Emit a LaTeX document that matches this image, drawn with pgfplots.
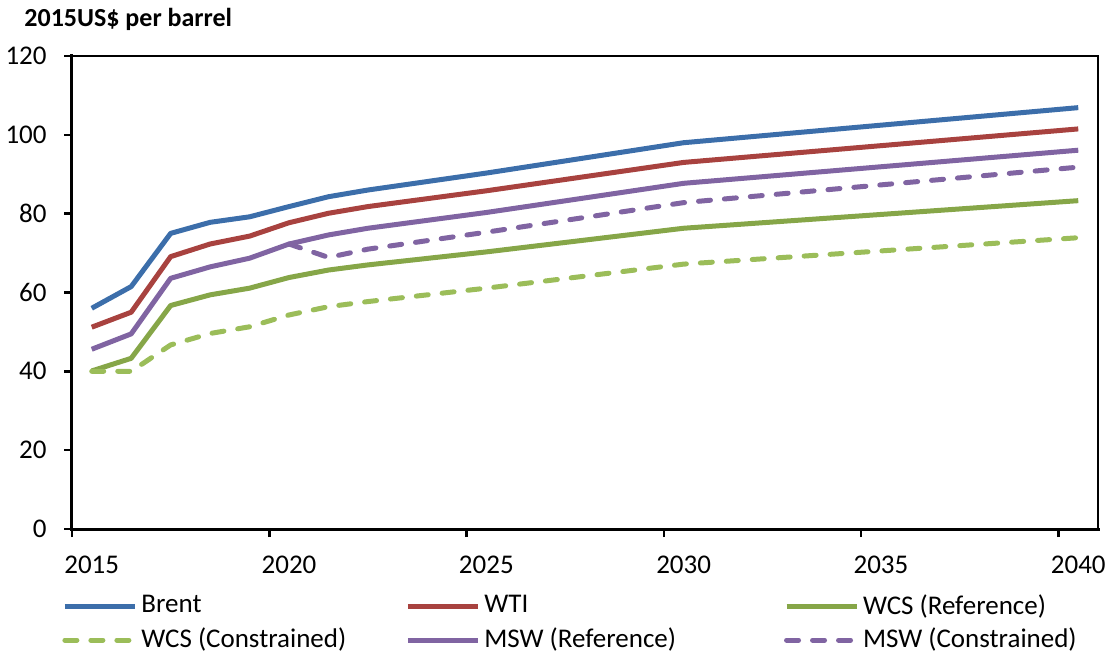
\documentclass[border=0pt]{standalone}
\usepackage{fontspec}
\setmainfont{Carlito}
\usepackage{pgfplots}
\usepackage{pgfplotstable}
\pgfplotsset{compat=1.18}
\definecolor{cBrent}{RGB}{60,110,170}
\definecolor{cWTI}{RGB}{168,66,63}
\definecolor{cWCSr}{RGB}{134,166,72}
\definecolor{cWCSc}{RGB}{155,189,89}
\definecolor{cMSW}{RGB}{128,100,162}
\pgfplotstableread{
Year Brent WTI WCSr WCSc MSWr
2015 56.0 51.2 40.1 40.0 45.6
2016 61.5 55.0 43.3 40.0 49.5
2017 75.0 69.1 56.7 46.7 63.6
2018 77.8 72.3 59.4 49.6 66.5
2019 79.2 74.3 61.1 51.3 68.7
2020 81.8 77.7 63.8 54.3 72.3
2021 84.3 80.1 65.7 56.4 74.6
2022 86.0 81.8 67.0 57.7 76.3
2025 90.3 85.8 70.3 61.1 80.3
2030 98.0 93.0 76.3 67.2 87.7
2040 106.9 101.5 83.3 73.9 96.1
}\main
\pgfplotstableread{
Year MSWc
2020 72.3
2021 68.9
2022 71.0
2025 75.3
2030 82.8
2040 91.8
}\mswc
\begin{document}
\fontsize{13.5}{16}\selectfont
\begin{tikzpicture}
\begin{axis}[
 scale only axis, width=513pt, height=236.5pt,
 xmin=2014.5, xmax=2040.5, ymin=0, ymax=120,
 ytick={0,20,...,120},
 xtick={2014.5,2019.5,2024.5,2029.5,2034.5,2039.5}, xticklabels={},
 extra x ticks={2015,2020,2025,2030,2035,2040},
 extra x tick labels={2015,2020,2025,2030,2035,2040},
 extra x tick style={tick style={draw=none}, xticklabel style={yshift=-5pt}},
 yticklabel style={xshift=-4pt},
 tick align=outside, xtick pos=bottom, ytick pos=left,
 major tick length=4pt,
 tick style={black, line width=1.2pt},
 axis line style={line width=0.7pt},
 /pgf/number format/assume math mode=true,
 /pgf/number format/1000 sep={},
 ticklabel style={font=\fontsize{13.5}{16}\selectfont},
 legend columns=3,
 legend style={at={(0,0)}, anchor=north west, xshift=-5pt, yshift=-30.5pt,
   draw=none, inner sep=0pt, font=\fontsize{13.5}{16}\selectfont,
   row sep=1pt,
   /tikz/column 2/.style={column sep=27.5pt},
   /tikz/column 4/.style={column sep=52pt}},
 legend cell align=left,
 legend image code/.code={\draw[#1] (0pt,0pt) -- (35pt,0pt);},
 every axis plot/.append style={line width=2.5pt, line join=round},
 after end axis/.code={
   \coordinate (bl) at (rel axis cs:0,0);
   \coordinate (tr) at (rel axis cs:1,1);
   \coordinate (tl) at (rel axis cs:0,1);
   \draw[line width=1.5pt, line cap=rect] (rel axis cs:0,1) -- (rel axis cs:0,0) -- (rel axis cs:1,0);
 },
]
\addplot[cBrent] table[x=Year,y=Brent] {\main};
\addlegendentry{Brent}
\addplot[cWTI] table[x=Year,y=WTI] {\main};
\addlegendentry{WTI}
\addplot[cWCSr] table[x=Year,y=WCSr] {\main};
\addlegendentry{WCS (Reference)}
\addplot[cWCSc, dash pattern=on 6pt off 7pt, line cap=round] table[x=Year,y=WCSc] {\main};
\addlegendentry{WCS (Constrained)}
\addplot[cMSW] table[x=Year,y=MSWr] {\main};
\addlegendentry{MSW (Reference)}
\addplot[cMSW, dash pattern=on 6pt off 7pt, line cap=round] table[x=Year,y=MSWc] {\mswc};
\addlegendentry{MSW (Constrained)}
\end{axis}
\node[anchor=base west, font=\bfseries\fontsize{13}{15}\selectfont] at ([shift={(-28.5pt,14.5pt)}]tl) {2015US\$ per barrel};
\pgfresetboundingbox
\path ([shift={(-36pt,-62pt)}]bl) rectangle ([shift={(5pt,28pt)}]tr);
\end{tikzpicture}
\end{document}
